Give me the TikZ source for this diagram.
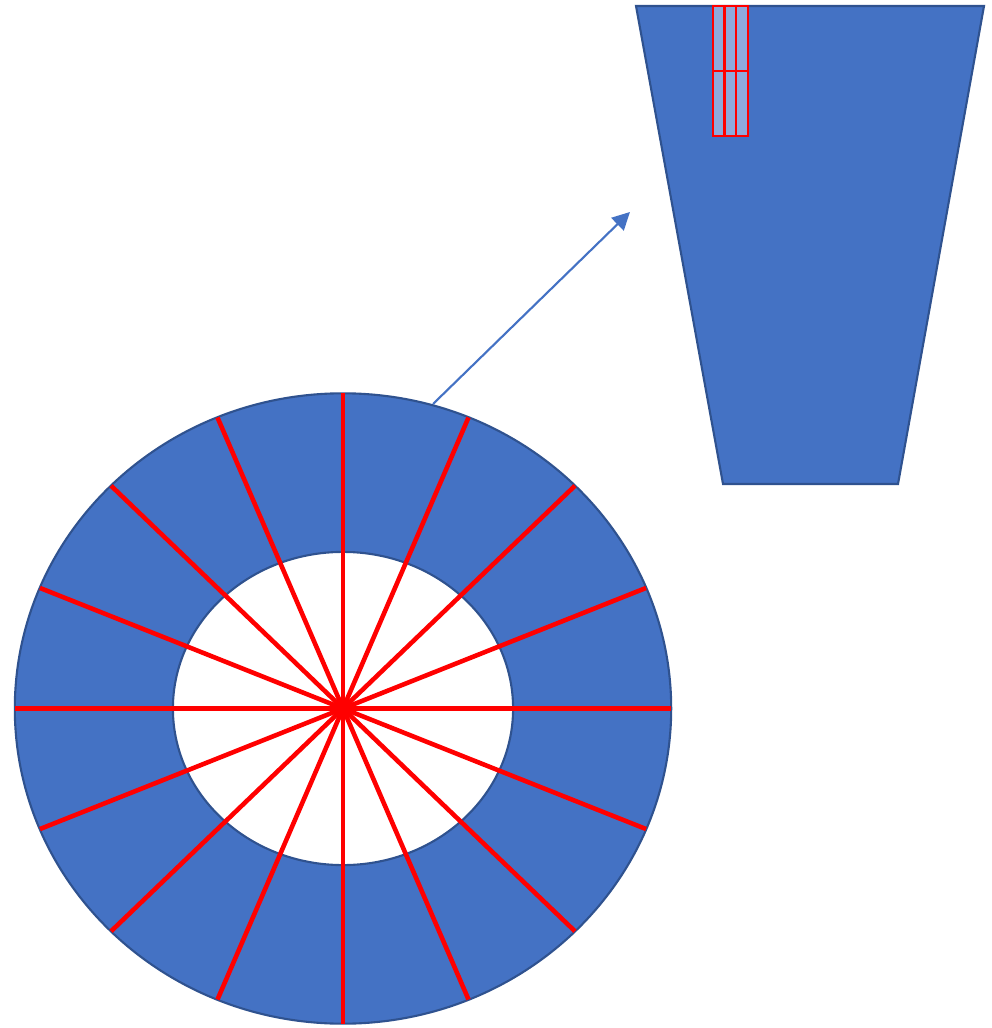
\documentclass[tikz,border=0pt]{standalone}
\usetikzlibrary{arrows.meta}
\definecolor{ringblue}{HTML}{4472C4}
\definecolor{edgeblue}{HTML}{2F528F}
\definecolor{cellfill}{HTML}{8FAADC}
\definecolor{spokered}{HTML}{FF0000}
\tikzset{
  ring/.style={fill=ringblue, draw=edgeblue, line width=0.6pt, even odd rule},
  spoke/.style={draw=spokered, line width=1.3pt},
  trap/.style={fill=ringblue, draw=edgeblue, line width=0.6pt},
  cell/.style={fill=cellfill, draw=spokered, line width=0.8pt},
  zoomarrow/.style={draw=ringblue, line width=0.6pt, -{Triangle[length=5pt,width=5pt]}}
}
\begin{document}
\begin{tikzpicture}[x=0.01cm, y=-0.01cm]
\useasboundingbox (0,0) rectangle (991,1028);
% ring
\path[ring] (343,708.5) ellipse [x radius=3.28cm, y radius=3.15cm]
            (343,708.5) ellipse [x radius=1.70cm, y radius=1.565cm];
% spokes
\foreach \t in {0,22.5,...,157.5}
  \draw[spoke] ({343+328*cos(\t)},{708.5-315*sin(\t)}) -- ({343-328*cos(\t)},{708.5+315*sin(\t)});
% trapezoid
\path[trap] (636,6) -- (984,6) -- (898,484) -- (723,484) -- cycle;
% cells
\foreach \xa/\xb in {713/724.5, 724.5/736, 736/748}{
  \path[cell] (\xa,6) rectangle (\xb,71);
  \path[cell] (\xa,71) rectangle (\xb,136);
}
% arrow
\coordinate (arrs) at (433,404);
\coordinate (arre) at (630,212);
\draw[zoomarrow] (arrs) -- (arre);
\end{tikzpicture}
\end{document}
